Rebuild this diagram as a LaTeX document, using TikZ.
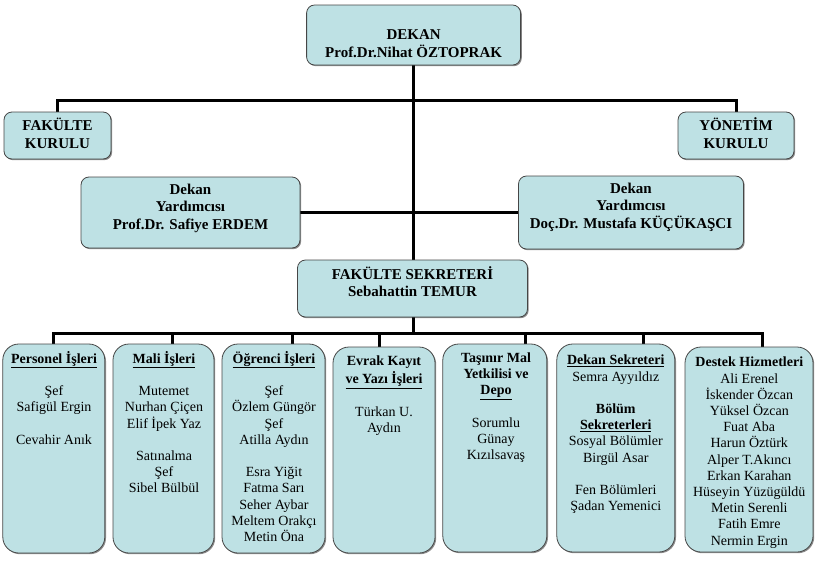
\documentclass[tikz,border=0pt]{standalone}
\usepackage{fontspec}
\setmainfont{Liberation Serif}
\newfontfamily\timesfont{Liberation Serif}
\usetikzlibrary{backgrounds,shadows}
\definecolor{boxfill}{RGB}{190,225,228}
\definecolor{boxline}{RGB}{70,70,70}
\begin{document}
\begin{tikzpicture}[x=1pt, y=-1pt, line join=miter,
  topbox/.style={draw=boxline, line width=0.8pt, fill=boxfill, rounded corners=8pt, inner sep=0pt,
    drop shadow={shadow xshift=1.2pt, shadow yshift=-1.2pt, opacity=0.45, fill=black}},
  botbox/.style={topbox, rounded corners=16pt},
  conn/.style={line width=3pt, draw=black},
  toptxt/.style={align=center, font=\timesfont\bfseries\fontsize{15}{17.7}\selectfont, inner sep=0pt},
  bottxt/.style={align=center, anchor=north, font=\timesfont\fontsize{14}{16.2}\selectfont, inner sep=0pt}]
\useasboundingbox (0,0) rectangle (819,565);

% top boxes
\node[topbox, minimum width=214pt, minimum height=60pt] (dekan) at (413.6,35) {};
\node[toptxt] (dekanT) at (413.6,43.5) {DEKAN\\Prof.Dr.Nihat ÖZTOPRAK};
\node[topbox, minimum width=107pt, minimum height=47pt] (fk) at (57.5,135.5) {};
\node[toptxt] (fkT) at (57.5,133) {FAKÜLTE\\KURULU};
\node[topbox, minimum width=116pt, minimum height=47pt] (yk) at (736,135.5) {};
\node[toptxt] (ykT) at (736,133) {YÖNETİM\\KURULU};
\node[topbox, minimum width=219pt, minimum height=71pt] (dy1) at (190.5,212.5) {};
\node[toptxt] (dy1T) at (190.5,208.3) {Dekan\\Yardımcısı\\Prof.Dr. Safiye ERDEM};
\node[topbox, minimum width=225pt, minimum height=73pt] (dy2) at (631,212.5) {};
\node[toptxt] (dy2T) at (631,207.2) {Dekan\\Yardımcısı\\Doç.Dr. Mustafa KÜÇÜKAŞCI};
\node[topbox, minimum width=230pt, minimum height=57pt] (sek) at (412.5,288.5) {};
\node[toptxt] (sekT) at (412.5,281.7) {FAKÜLTE SEKRETERİ\\Sebahattin TEMUR};

% bottom boxes
\node[botbox, minimum width=102pt, minimum height=209pt] (p1) at (53.8,448.5) {};
\node[botbox, minimum width=101pt, minimum height=209pt] (p2) at (163.5,448.5) {};
\node[botbox, minimum width=103pt, minimum height=209pt] (p3) at (273.5,448.5) {};
\node[botbox, minimum width=102pt, minimum height=206pt] (p4) at (384,450) {};
\node[botbox, minimum width=104pt, minimum height=208pt] (p5) at (494.8,448) {};
\node[botbox, minimum width=118pt, minimum height=208pt] (p6) at (615.8,448) {};
\node[botbox, minimum width=128pt, minimum height=205pt] (p7) at (749,449.5) {};

\node[bottxt] (t1) at (54,351) {\strut\underline{\textbf{Personel İşleri}}\\[16.2pt]Şef\\Safigül Ergin\\[16.2pt]Cevahir Anık};
\node[bottxt] (t2) at (164,351) {\strut\underline{\textbf{Mali İşleri}}\\[16.2pt]Mutemet\\Nurhan Çiçen\\Elif İpek Yaz\\[16.2pt]Satınalma\\Şef\\Sibel Bülbül};
\node[bottxt] (t3) at (274,351) {\strut\underline{\textbf{Öğrenci İşleri}}\\[16.2pt]Şef\\Özlem Güngör\\Şef\\Atilla Aydın\\[16.2pt]Esra Yiğit\\Fatma Sarı\\Seher Aybar\\Meltem Orakçı\\Metin Öna};
\node[bottxt] (t4) at (384,354.4) {\strut\textbf{Evrak Kayıt}\\\underline{\textbf{ve Yazı İşleri}}\\[16.2pt]Türkan U.\\Aydın};
\node[bottxt] (t5) at (496,351) {\strut\textbf{Taşınır Mal}\\\textbf{Yetkilisi ve}\\\underline{\textbf{Depo}}\\[16.2pt]Sorumlu\\Günay\\Kızılsavaş};
\node[bottxt] (t6) at (615.8,353.4) {\strut\underline{\textbf{Dekan Sekreteri}}\\Semra Ayyıldız\\[16.2pt]\textbf{Bölüm}\\\underline{\textbf{Sekreterleri}}\\Sosyal Bölümler\\Birgül Asar\\[16.2pt]Fen Bölümleri\\Şadan Yemenici};
\node[bottxt] (t7) at (749.3,355.4) {\strut\textbf{Destek Hizmetleri}\\Ali Erenel\\İskender Özcan\\Yüksel Özcan\\Fuat Aba\\Harun Öztürk\\Alper T.Akıncı\\Erkan Karahan\\Hüseyin Yüzügüldü\\Metin Serenli\\Fatih Emre\\Nermin Ergin};

% connectors
\coordinate (topbus) at (413.6,100);
\coordinate (q1) at (53.8,333);
\coordinate (q2) at (172,333);
\coordinate (q3) at (292,333);
\coordinate (q4) at (379,333);
\coordinate (q5) at (525.7,333);
\coordinate (q6) at (643,333);
\coordinate (q7) at (762.7,333);
\begin{scope}[on background layer]
\draw[conn] (dekan.south) -- (dekan.south |- q1);
\draw[conn] (fk.north) |- (topbus) -| (yk.north);
\draw[conn] (dy1.east) -- (dy2.west);
\draw[conn] (q1 |- p1.north) -- (q1) -- (q7) -- (q7 |- p7.north);
\draw[conn] (q2) -- (q2 |- p2.north);
\draw[conn] (q3) -- (q3 |- p3.north);
\draw[conn] (q4) -- (q4 |- p4.north);
\draw[conn] (q5) -- (q5 |- p5.north);
\draw[conn] (q6) -- (q6 |- p6.north);
\end{scope}
\end{tikzpicture}
\end{document}
